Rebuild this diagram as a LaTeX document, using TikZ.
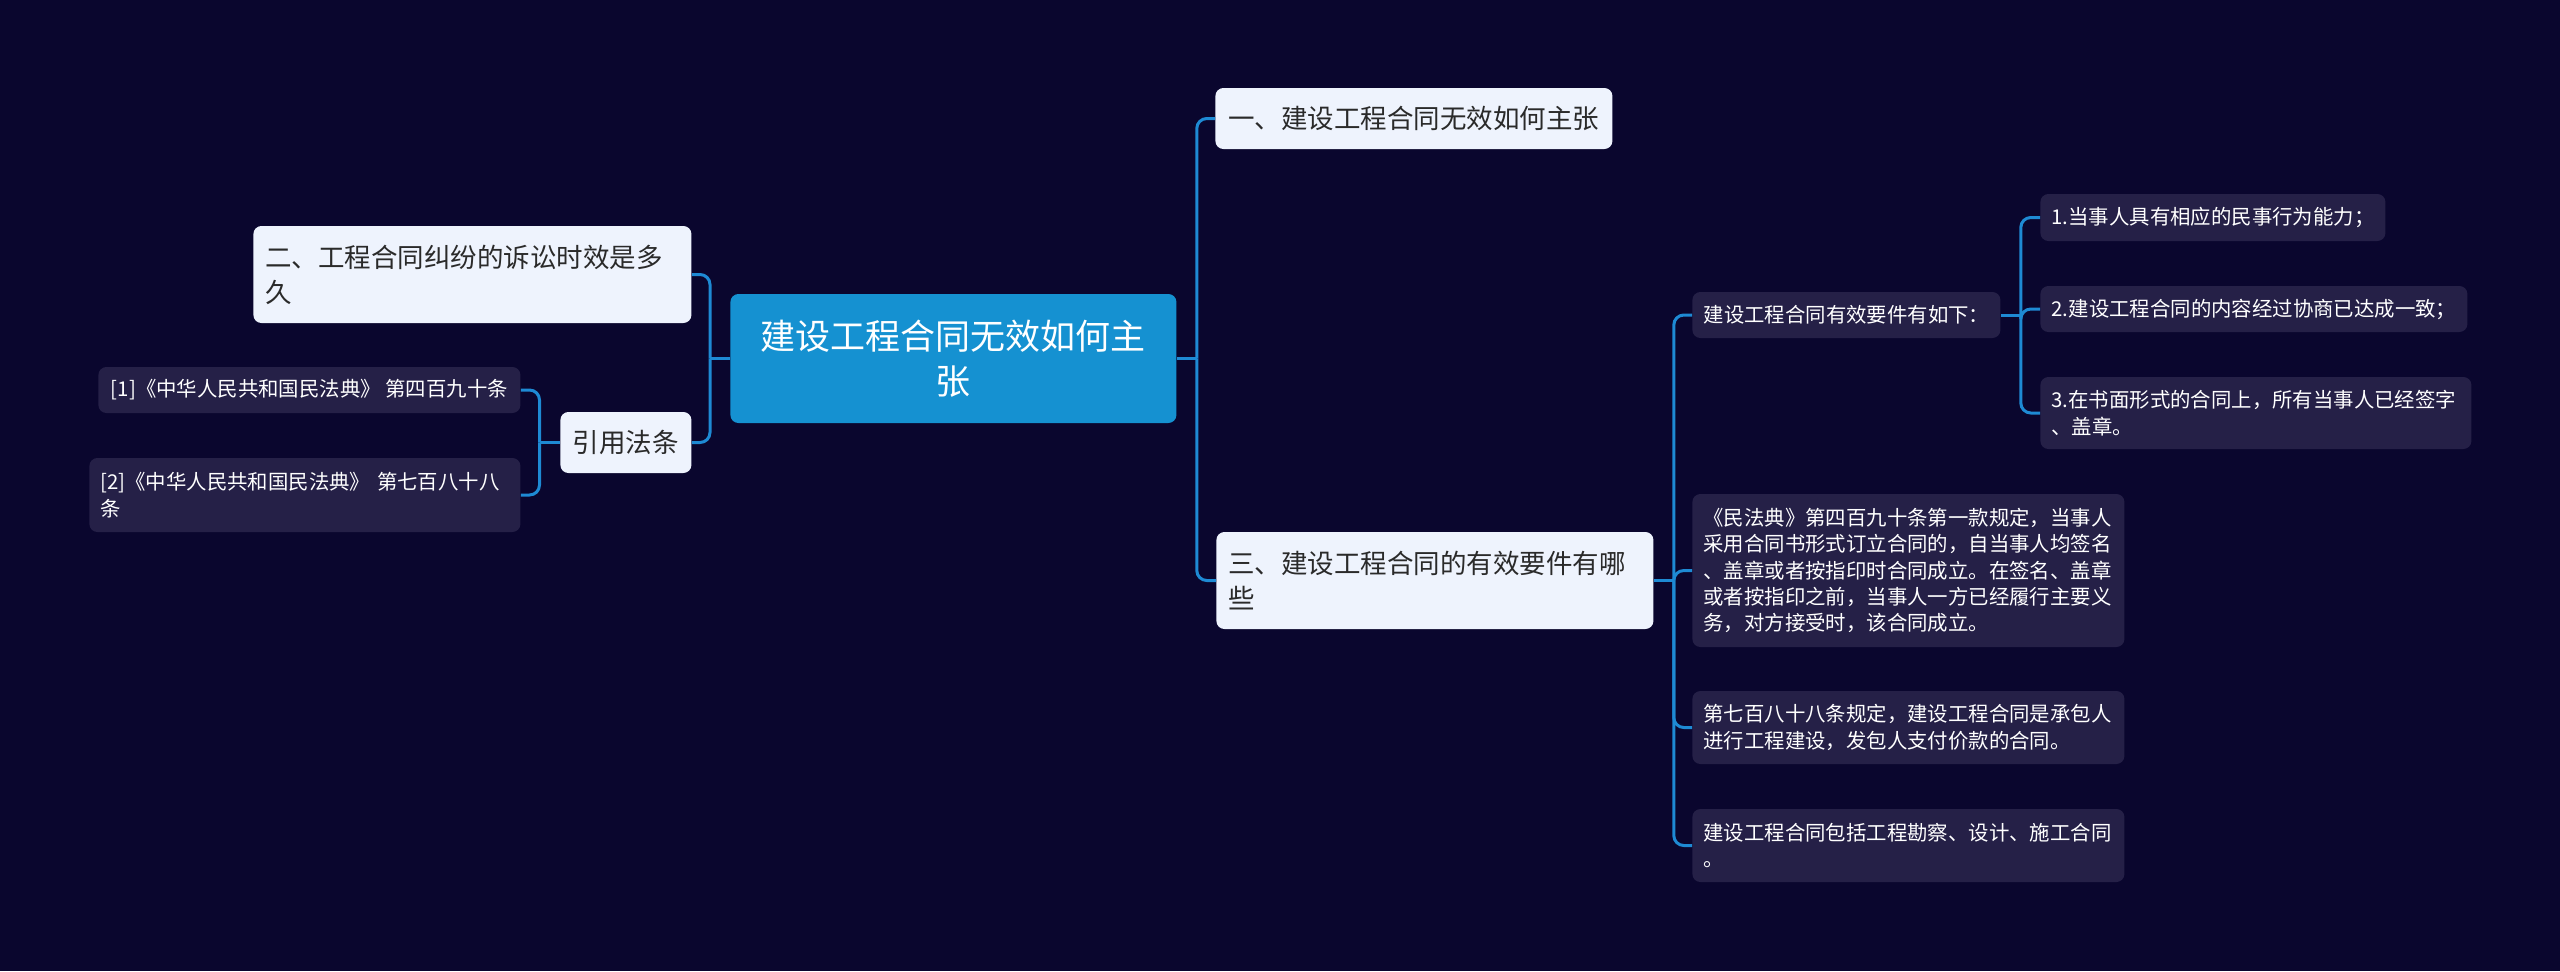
\documentclass[tikz,border=0pt]{standalone}
\usepackage{fontspec}
\setmainfont{Noto Sans CJK SC}
\usepackage{xcolor}
\usetikzlibrary{positioning}
\definecolor{bgnavy}{HTML}{0A062E}
\definecolor{rootblue}{HTML}{1591D1}
\definecolor{linkblue}{HTML}{1E8AD4}
\definecolor{lightbox}{HTML}{EEF3FD}
\definecolor{darkbox}{HTML}{252047}
\definecolor{inkdark}{HTML}{2A2A2A}

\begin{document}
\begin{tikzpicture}[
  x=0.5pt, y=-0.5pt,
  base/.style={rectangle, rounded corners=4pt, inner xsep=6pt, inner ysep=0pt, anchor=west},
  rootbox/.style={base, fill=rootblue, text=white, align=center, font=\fontsize{17.5pt}{22.5pt}\selectfont},
  topic/.style={base, fill=lightbox, text=inkdark, align=left, font=\fontsize{13.25pt}{17.5pt}\selectfont},
  leaf/.style={base, fill=darkbox, text=white, align=left, inner xsep=5.5pt, font=\fontsize{10.2pt}{13.2pt}\selectfont},
  link/.style={draw=linkblue, line width=1.5pt},
  branch/.style={link, rounded corners=5pt},
]
  \fill[bgnavy] (0,0) rectangle (2560,971);

  % centre and first level
  \node[rootbox, minimum width=223pt, minimum height=64.5pt] (root) at (730,358.5) {建设工程合同无效如何主\\张};
  \node[topic, minimum width=198.5pt, minimum height=30.5pt] (one) at (1215,118.5) {一、建设工程合同无效如何主张};
  \node[topic, text width=207pt, minimum height=48.5pt] (two) at (253,274.5) {二、工程合同纠纷的诉讼时效是多\\久};
  \node[topic, align=center, minimum width=65.5pt, minimum height=30.5pt] (cite) at (560,442.5) {引用法条};
  \node[topic, text width=206.5pt, minimum height=48.5pt] (three) at (1216,580.5) {三、建设工程合同的有效要件有哪\\些};

  % cited articles
  \node[leaf, minimum width=211pt, minimum height=23pt] (ref1) at (98,390) {[1]《中华人民共和国民法典》 第四百九十条};
  \node[leaf, text width=204.5pt, minimum height=37pt] (ref2) at (89,495) {[2]《中华人民共和国民法典》 第七百八十八\\条};

  % valid conditions
  \node[leaf, minimum width=154pt, minimum height=23pt] (cond) at (1692,315) {建设工程合同有效要件有如下：};
  \node[leaf, minimum width=172.5pt, minimum height=23.5pt] (c1) at (2040,217.5) {1.当事人具有相应的民事行为能力；};
  \node[leaf, minimum width=213.5pt, minimum height=23pt] (c2) at (2040,309) {2.建设工程合同的内容经过协商已达成一致；};
  \node[leaf, text width=204.5pt, minimum height=36pt] (c3) at (2040,413) {3.在书面形式的合同上，所有当事人已经签字\\、盖章。};

  % article texts
  \node[leaf, text width=205pt, minimum height=76.5pt] (art1) at (1692,570.5) {《民法典》第四百九十条第一款规定，当事人\\采用合同书形式订立合同的，自当事人均签名\\、盖章或者按指印时合同成立。在签名、盖章\\或者按指印之前，当事人一方已经履行主要义\\务，对方接受时，该合同成立。};
  \node[leaf, text width=205pt, minimum height=36.5pt] (art2) at (1692,727.5) {第七百八十八条规定，建设工程合同是承包人\\进行工程建设，发包人支付价款的合同。};
  \node[leaf, text width=205pt, minimum height=36.5pt] (art3) at (1692,845.5) {建设工程合同包括工程勘察、设计、施工合同\\。};

  % connectors
  \draw[link] (root.east) -- ++(20,0) coordinate (hubR);
  \draw[branch] (hubR) |- (one.west);
  \draw[branch] (hubR) |- (three.west);
  \draw[link] (root.west) -- ++(-20,0) coordinate (hubL);
  \draw[branch] (hubL) |- (two.east);
  \draw[branch] (hubL) |- (cite.east);
  \draw[link] (cite.west) -- ++(-20.5,0) coordinate (hubC);
  \draw[branch] (hubC) |- (ref1.east);
  \draw[branch] (hubC) |- (ref2.east);
  \draw[link] (three.east) -- ++(20,0) coordinate (hubT);
  \foreach \n in {cond,art1,art2,art3}
    \draw[branch] (hubT) |- (\n.west);
  \draw[link] (cond.east) -- ++(20,0) coordinate (hubK);
  \foreach \n in {c1,c2,c3}
    \draw[branch] (hubK) |- (\n.west);
\end{tikzpicture}
\end{document}
